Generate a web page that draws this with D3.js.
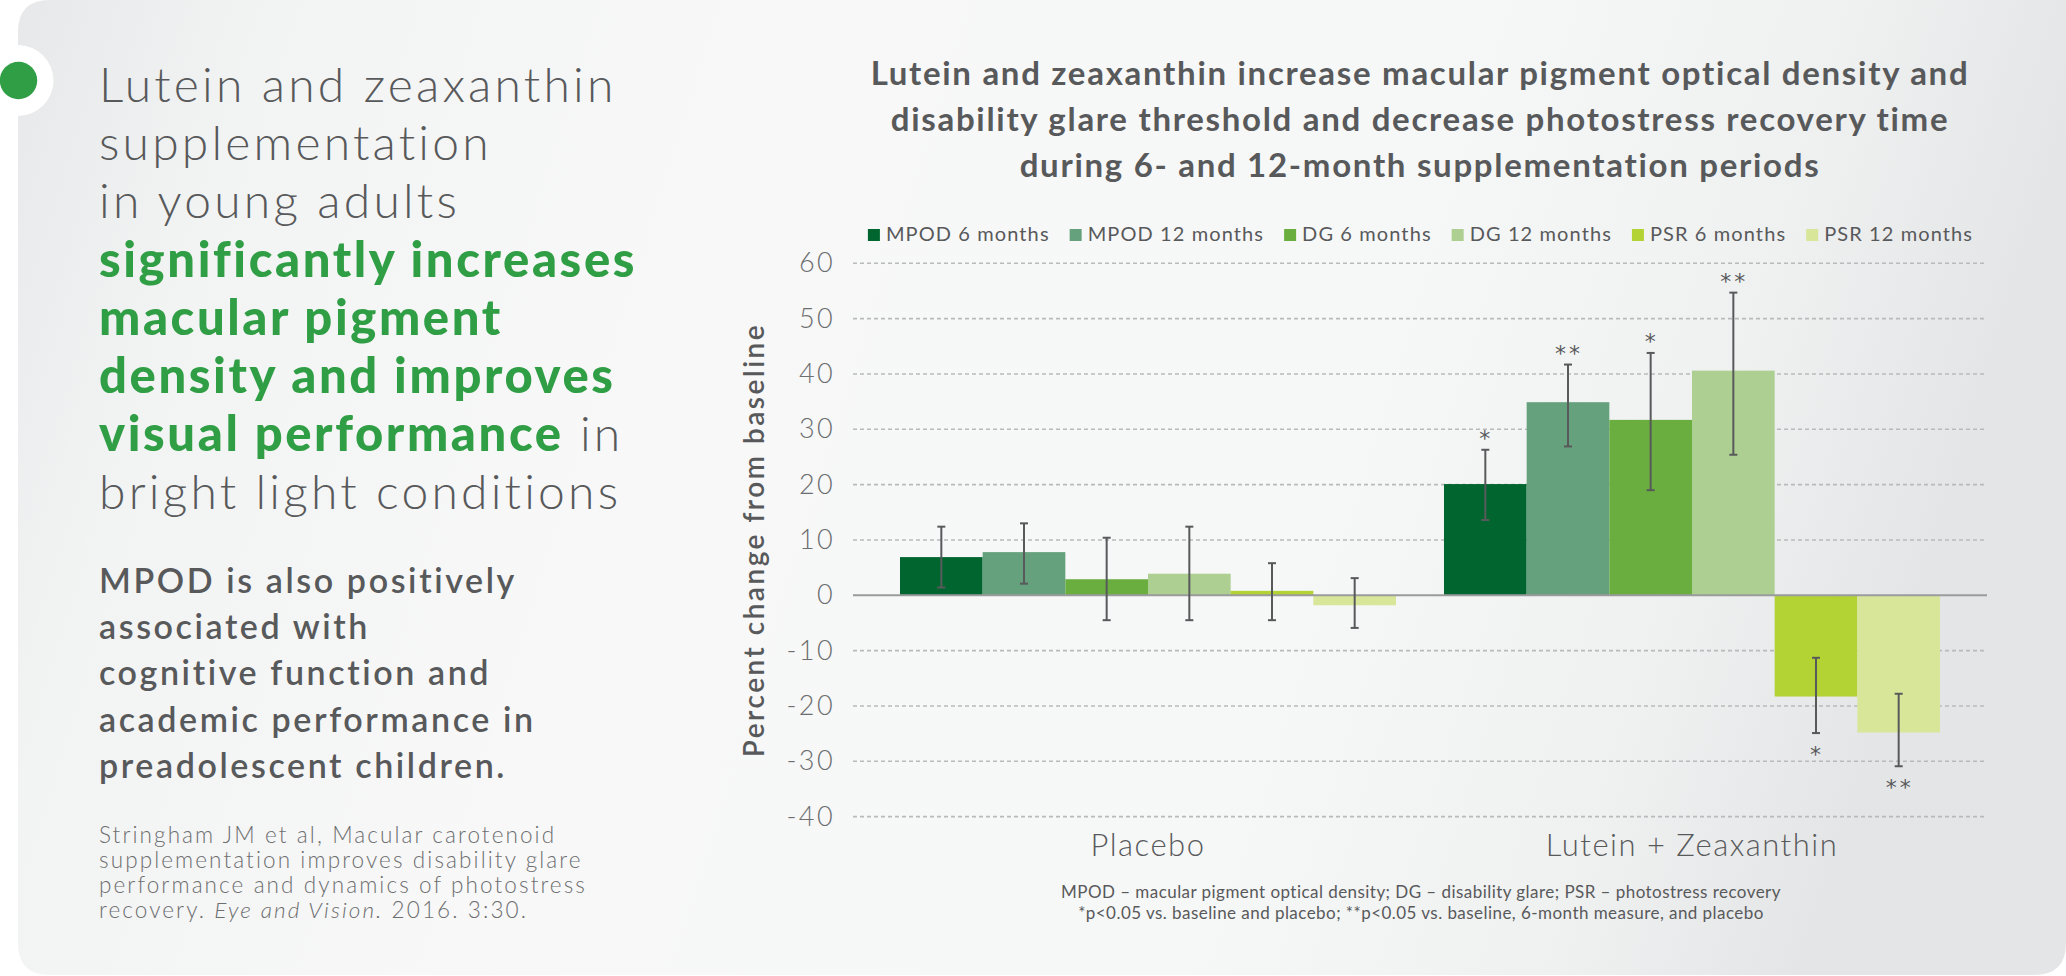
<!DOCTYPE html>
<html><head><meta charset="utf-8">
<script src="https://cdn.jsdelivr.net/npm/d3@7"></script>
<style>body{margin:0;background:#fff;} svg{display:block}</style>
</head><body><svg id="c" width="2066" height="976"></svg>
<script>
// ---------- data ----------
const groups = ["Placebo", "Lutein + Zeaxanthin"];
const seriesNames = ["MPOD 6 months", "MPOD 12 months", "DG 6 months", "DG 12 months", "PSR 6 months", "PSR 12 months"];
const seriesColors = ["#00652f", "#65a17c", "#6aae40", "#add092", "#b3d335", "#d8e69a"];
const placeboValues = [6.9, 7.8, 2.9, 3.9, 0.8, -1.8];
const placeboLow    = [1.4, 2.1, -4.5, -4.5, -4.5, -5.9];
const placeboHigh   = [12.4, 13.0, 10.4, 12.4, 5.8, 3.1];
const placeboSig    = ["", "", "", "", "", ""];
const lzValues = [20.1, 34.9, 31.7, 40.6, -18.3, -24.8];
const lzLow    = [13.6, 26.9, 19.0, 25.4, -24.9, -30.9];
const lzHigh   = [26.3, 41.7, 43.8, 54.7, -11.3, -17.8];
const lzSig    = ["*", "**", "*", "**", "*", "**"];
const yTicks = [-40, -30, -20, -10, 0, 10, 20, 30, 40, 50, 60];
const titleLines = [
  "Lutein and zeaxanthin increase macular pigment optical density and",
  "disability glare threshold and decrease photostress recovery time",
  "during 6- and 12-month supplementation periods"
];
const yAxisTitle = "Percent change from baseline";
const footnoteLines = [
  "MPOD \u2013 macular pigment optical density; DG \u2013 disability glare; PSR \u2013 photostress recovery",
  "*p<0.05 vs. baseline and placebo; **p<0.05 vs. baseline, 6-month measure, and placebo"
];
const headlineLines = [
  [["Lutein and zeaxanthin", 0]],
  [["supplementation", 0]],
  [["in young adults", 0]],
  [["significantly increases", 1]],
  [["macular pigment", 1]],
  [["density and improves", 1]],
  [["visual performance", 1], [" in", 0]],
  [["bright light conditions", 0]]
];
const subLines = ["MPOD is also positively", "associated with", "cognitive function and", "academic performance in", "preadolescent children."];
const citeLines = [
  [["Stringham JM et al, Macular carotenoid", 0]],
  [["supplementation improves disability glare", 0]],
  [["performance and dynamics of photostress", 0]],
  [["recovery. ", 0], ["Eye and Vision.", 1], [" 2016. 3:30.", 0]]
];

// ---------- drawing ----------
const FONT = "Lato, 'Open Sans', 'DejaVu Sans', sans-serif";
const GREY = "#58595b";
const GREEN = "#2f9e45";
const svg = d3.select("#c");

const defs = svg.append("defs");
const lg = defs.append("linearGradient").attr("id", "bg").attr("x1", "0").attr("x2", "1").attr("y1", "0").attr("y2", "0.15");
[[0, "#e7e8e9"], [0.12, "#f2f3f3"], [0.35, "#f8f8f8"], [0.7, "#f6f7f7"], [0.88, "#eff0f0"], [1, "#e4e5e6"]]
  .forEach(([o, c]) => lg.append("stop").attr("offset", o).attr("stop-color", c));

// panel: rounded top-left, bottom-left, bottom-right
const L = 18, T = 0, R = 2066, B = 975, r = 32;
svg.append("path")
  .attr("d", `M${L + r},${T} H${R} V${B - r} Q${R},${B} ${R - r},${B} H${L + r} Q${L},${B} ${L},${B - r} V${T + r} Q${L},${T} ${L + r},${T} Z`)
  .attr("fill", "url(#bg)");
svg.append("circle").attr("cx", 18).attr("cy", 80.5).attr("r", 35.5).attr("fill", "#fff");
svg.append("circle").attr("cx", 18.5).attr("cy", 80.5).attr("r", 18.7).attr("fill", GREEN);

// Left headline
headlineLines.forEach((parts, i) => {
  const t = svg.append("text").attr("x", 99).attr("y", 102 + i * 58.2)
    .attr("font-family", FONT).attr("font-size", 48);
  parts.forEach(([s, b]) => {
    t.append("tspan").text(s)
      .attr("font-weight", b ? 900 : 300)
      .attr("font-size", b ? 49 : 48)
      .attr("fill", b ? GREEN : GREY)
      .attr("letter-spacing", b ? 2.6 : 3.2);
  });
});
subLines.forEach((s, i) => {
  svg.append("text").attr("x", 99).attr("y", 593 + i * 46.2)
    .attr("font-family", FONT).attr("font-size", 34).attr("font-weight", 600)
    .attr("letter-spacing", 2.6).attr("fill", GREY).text(s);
});
citeLines.forEach((parts, i) => {
  const t = svg.append("text").attr("x", 99).attr("y", 843 + i * 25)
    .attr("font-family", FONT).attr("font-size", 22.5).attr("font-weight", 300)
    .attr("letter-spacing", 2.1).attr("fill", "#6d6e70");
  parts.forEach(([s, it]) => t.append("tspan").text(s).attr("font-style", it ? "italic" : "normal"));
});

// Chart title
titleLines.forEach((s, i) => {
  svg.append("text").attr("x", 1420).attr("y", 85 + i * 46).attr("text-anchor", "middle")
    .attr("font-family", FONT).attr("font-size", 33).attr("font-weight", 700)
    .attr("letter-spacing", 1.7).attr("fill", GREY).text(s);
});

// Scales
const plotLeft = 853, plotRight = 1987;
const y = d3.scaleLinear().domain([-40, 60]).range([816.6, 263.3]);
const x0 = d3.scaleBand().domain(groups).range([876, 1964]).paddingInner(0.0882).paddingOuter(0.0441);
const x1 = d3.scaleBand().domain(seriesNames).range([0, x0.bandwidth()]).padding(0);

// Gridlines
svg.append("g").selectAll("line").data(yTicks.filter(d => d !== 0)).join("line")
  .attr("x1", plotLeft).attr("x2", plotRight).attr("y1", d => y(d)).attr("y2", d => y(d))
  .attr("stroke", "#b9babb").attr("stroke-width", 1.6).attr("stroke-dasharray", "4,3");

// Y axis (labels only)
const yAxis = d3.axisLeft(y).tickValues(yTicks).tickSize(0).tickPadding(0).tickFormat(d => String(d));
const ya = svg.append("g").attr("transform", `translate(835,0)`).call(yAxis);
ya.select(".domain").remove();
ya.selectAll("text").attr("font-family", FONT).attr("font-size", 27).attr("font-weight", 300)
  .attr("fill", "#6d6e70").attr("letter-spacing", 2.4);

// Y axis title
svg.append("text").attr("transform", `translate(764,540) rotate(-90)`).attr("text-anchor", "middle")
  .attr("font-family", FONT).attr("font-size", 28).attr("font-weight", 600).attr("letter-spacing", 2.5)
  .attr("fill", GREY).text(yAxisTitle);

// Bars
const groupData = [
  { g: groups[0], v: placeboValues, lo: placeboLow, hi: placeboHigh, sig: placeboSig },
  { g: groups[1], v: lzValues, lo: lzLow, hi: lzHigh, sig: lzSig }
];
const flat = [];
groupData.forEach(gd => seriesNames.forEach((s, i) => flat.push({ g: gd.g, s, i, v: gd.v[i], lo: gd.lo[i], hi: gd.hi[i], sig: gd.sig[i] })));

svg.append("g").selectAll("rect").data(flat).join("rect")
  .attr("x", d => x0(d.g) + x1(d.s))
  .attr("width", x1.bandwidth())
  .attr("y", d => y(Math.max(0, d.v)))
  .attr("height", d => Math.abs(y(d.v) - y(0)))
  .attr("fill", d => seriesColors[d.i]);

// Zero line
svg.append("line").attr("x1", plotLeft).attr("x2", plotRight).attr("y1", y(0)).attr("y2", y(0))
  .attr("stroke", "#9a9b9c").attr("stroke-width", 2);

// Error bars
const eb = svg.append("g").attr("stroke", "#58595b").attr("stroke-width", 2);
flat.forEach(d => {
  const cx = x0(d.g) + x1(d.s) + x1.bandwidth() / 2;
  eb.append("line").attr("x1", cx).attr("x2", cx).attr("y1", y(d.lo)).attr("y2", y(d.hi));
  eb.append("line").attr("x1", cx - 4).attr("x2", cx + 4).attr("y1", y(d.lo)).attr("y2", y(d.lo));
  eb.append("line").attr("x1", cx - 4).attr("x2", cx + 4).attr("y1", y(d.hi)).attr("y2", y(d.hi));
});

// Significance stars
svg.append("g").selectAll("text").data(flat.filter(d => d.sig)).join("text")
  .attr("x", d => x0(d.g) + x1(d.s) + x1.bandwidth() / 2 + 1)
  .attr("y", d => d.v >= 0 ? y(d.hi) - 16 : y(d.lo) + 17)
  .attr("dy", "0.55em")
  .attr("text-anchor", "middle")
  .attr("font-family", "'DejaVu Sans', sans-serif").attr("font-size", 22).attr("fill", "#58595b")
  .attr("letter-spacing", 3)
  .text(d => d.sig);

// Category labels
const xAxis = d3.axisBottom(x0).tickSize(0).tickPadding(0);
const xa = svg.append("g").attr("transform", `translate(0,834)`).call(xAxis);
xa.select(".domain").remove();
xa.selectAll("text").attr("font-family", FONT).attr("font-size", 31).attr("font-weight", 300)
  .attr("fill", GREY).attr("letter-spacing", 1.5).attr("dy", "0.7em");

// Legend
const leg = svg.append("g");
let cx = 0;
seriesNames.forEach((s, i) => {
  const it = leg.append("g").attr("transform", `translate(${cx},0)`);
  it.append("rect").attr("x", 0).attr("y", 229).attr("width", 12).attr("height", 12).attr("fill", seriesColors[i]);
  const t = it.append("text").attr("x", 18).attr("y", 241).attr("font-family", FONT).attr("font-size", 20)
    .attr("font-weight", 400).attr("letter-spacing", 1.1).attr("fill", GREY).text(s);
  cx += 18 + t.node().getComputedTextLength() + 20;
});
const legW = cx - 20;
leg.attr("transform", `translate(${1420.5 - legW / 2},0)`);

// Footnote
footnoteLines.forEach((s, i) => {
  svg.append("text").attr("x", 1421).attr("y", 898 + i * 21).attr("text-anchor", "middle")
    .attr("font-family", FONT).attr("font-size", 17).attr("font-weight", 400).attr("letter-spacing", 0.45)
    .attr("fill", GREY).text(s);
});
</script></body></html>
